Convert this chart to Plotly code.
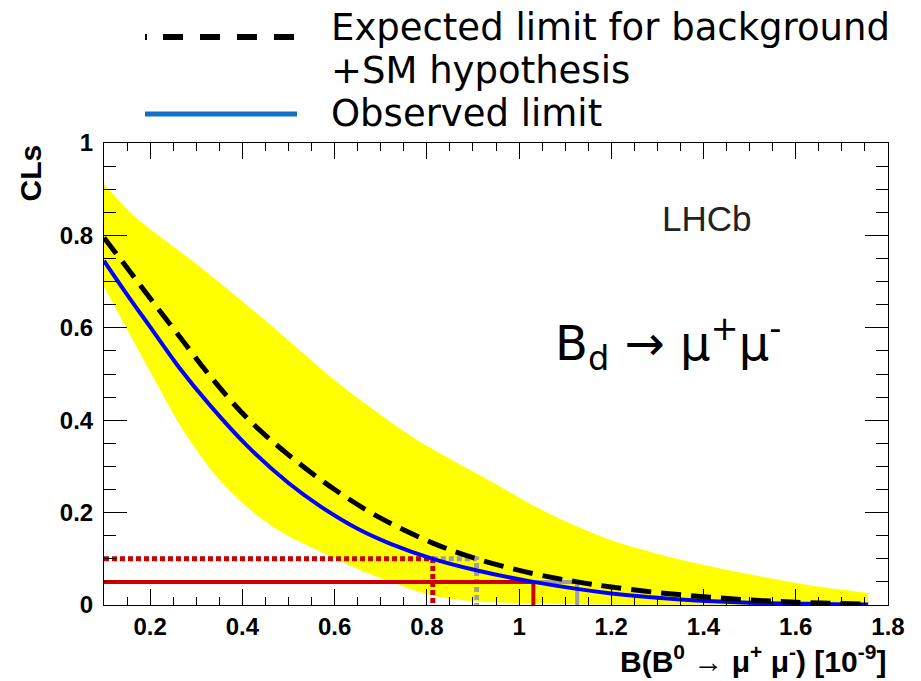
import plotly.graph_objects as go

# ---------------- data ----------------
obs_x = [0.10, 0.15, 0.20, 0.26, 0.33, 0.41, 0.50, 0.57, 0.65, 0.72, 0.813, 0.90, 1.031, 1.20, 1.35, 1.50, 1.757]
obs_y = [0.745, 0.672, 0.602, 0.518, 0.432, 0.345, 0.264, 0.213, 0.165, 0.133, 0.100, 0.077, 0.050, 0.025, 0.012, 0.005, 0.001]

exp_x = [0.10, 0.15, 0.20, 0.26, 0.333, 0.41, 0.50, 0.60, 0.70, 0.813, 0.908, 1.03, 1.126, 1.20, 1.30, 1.40, 1.50, 1.60, 1.757]
exp_y = [0.795, 0.730, 0.664, 0.586, 0.492, 0.405, 0.325, 0.250, 0.188, 0.134, 0.100, 0.068, 0.050, 0.039, 0.027, 0.018, 0.011, 0.006, 0.002]

band_up_x = [0.10, 0.163, 0.308, 0.453, 0.59, 0.655, 0.779, 0.922, 1.067, 1.20, 1.342, 1.486, 1.631, 1.757]
band_up_y = [0.911, 0.844, 0.732, 0.613, 0.495, 0.444, 0.357, 0.277, 0.197, 0.140, 0.100, 0.069, 0.043, 0.026]
band_lo_x = [0.10, 0.21, 0.271, 0.345, 0.417, 0.488, 0.562, 0.655, 0.75, 0.813, 0.90, 1.00, 1.20, 1.757]
band_lo_y = [0.689, 0.487, 0.379, 0.277, 0.206, 0.156, 0.119, 0.076, 0.040, 0.020, 0.008, 0.004, 0.001, 0.0]

cl_levels = [0.10, 0.05]          # 90% and 95% CL
obs_limits = [0.813, 1.031]       # observed upper limits
exp_limits = [0.908, 1.126]       # expected upper limits
x_start = 0.10

x_tickvals = [0.2, 0.4, 0.6, 0.8, 1.0, 1.2, 1.4, 1.6, 1.8]
x_ticktext = ["0.2", "0.4", "0.6", "0.8", "1", "1.2", "1.4", "1.6", "1.8"]
y_tickvals = [0, 0.2, 0.4, 0.6, 0.8, 1.0]
y_ticktext = ["0", "0.2", "0.4", "0.6", "0.8", "1"]

# ---------------- figure ----------------
W, H = 921, 681
L, R, T, B = 104, 33, 143, 76
PW, PH = W - L - R, H - T - B

def px(x):
    """window pixel x -> paper"""
    return (x - L) / PW

def py(y):
    """window pixel y -> paper"""
    return (H - B - y) / PH

fig = go.Figure()

# yellow band (lower edge, then upper edge filled to it)
fig.add_trace(go.Scatter(x=band_lo_x, y=band_lo_y, mode="lines",
                         line=dict(width=0, color="#FFFF00", shape="spline", smoothing=0.8),
                         hoverinfo="skip", showlegend=False))
fig.add_trace(go.Scatter(x=band_up_x, y=band_up_y, mode="lines", fill="tonexty", fillcolor="#FFFF00",
                         line=dict(width=0, color="#FFFF00", shape="spline", smoothing=0.8),
                         hoverinfo="skip", showlegend=False))

RED = "#CC0000"
GREY = "#A0A0A0"
styles = [dict(dash="5px,3px", width=5), dict(dash="solid", width=4)]
for lvl, ol, el, st in zip(cl_levels, obs_limits, exp_limits, styles):
    fig.add_trace(go.Scatter(x=[x_start, ol, ol], y=[lvl, lvl, 0], mode="lines",
                             line=dict(color=RED, **st), showlegend=False))
    fig.add_trace(go.Scatter(x=[ol, el, el], y=[lvl, lvl, 0], mode="lines",
                             line=dict(color=GREY, **st), showlegend=False))

fig.add_trace(go.Scatter(x=obs_x, y=obs_y, mode="lines",
                         line=dict(color="#0000FF", width=4, shape="spline", smoothing=1.0),
                         showlegend=False))
fig.add_trace(go.Scatter(x=exp_x, y=exp_y, mode="lines",
                         line=dict(color="#000000", width=5, dash="20px,10px", shape="spline", smoothing=1.0),
                         showlegend=False))

tickfont = dict(family="Liberation Sans", size=24, color="black", weight="bold")
fig.update_xaxes(range=[0.1, 1.8], tickvals=x_tickvals, ticktext=x_ticktext,
                 ticks="inside", ticklen=16, tickwidth=1, tickcolor="black",
                 minor=dict(dtick=0.05, tick0=0, ticks="inside", ticklen=8, tickwidth=1, tickcolor="black"),
                 showline=True, linecolor="black", linewidth=1, mirror="allticks",
                 showgrid=False, zeroline=False, tickfont=tickfont, ticklabelstandoff=0)
fig.update_yaxes(range=[0, 1], tickvals=y_tickvals, ticktext=y_ticktext,
                 ticks="inside", ticklen=23, tickwidth=1, tickcolor="black",
                 minor=dict(dtick=0.05, tick0=0, ticks="inside", ticklen=12, tickwidth=1, tickcolor="black"),
                 showline=True, linecolor="black", linewidth=1, mirror="allticks",
                 showgrid=False, zeroline=False, tickfont=tickfont, ticklabelstandoff=5)

# legend drawn above the frame
fig.add_shape(type="line", xref="paper", yref="paper", x0=px(145), x1=px(297), y0=py(37), y1=py(37),
              line=dict(color="black", width=6,
                        dash="2px,16px,20px,17px,20px,17px,20px,17px,20px,10px"))
fig.add_shape(type="line", xref="paper", yref="paper", x0=px(145), x1=px(297), y0=py(114), y1=py(114),
              line=dict(color="#1070C8", width=5))
legfont = dict(family="DejaVu Sans", size=37, color="black")
for txt, yy in [("Expected limit for background", 28), ("+SM hypothesis", 70), ("Observed limit", 114)]:
    fig.add_annotation(text=txt, xref="paper", yref="paper", x=px(330), y=py(yy),
                       xanchor="left", yanchor="middle", showarrow=False, font=legfont,
                       borderpad=0)

fig.add_annotation(text="LHCb", xref="paper", yref="paper", x=px(660), y=py(218),
                   xanchor="left", yanchor="middle", showarrow=False,
                   font=dict(family="Liberation Sans", size=35, color="#222222"))
fig.add_annotation(text="B<sub>d</sub> → μ<sup>+</sup>μ<sup>-</sup>", xref="paper", yref="paper",
                   x=px(553), y=py(343), xanchor="left", yanchor="middle", showarrow=False,
                   font=dict(family="DejaVu Sans", size=48, color="black"))
fig.add_annotation(text="<b>B(B<sup>0</sup> → μ<sup>+</sup> μ<sup>-</sup>) [10<sup>-9</sup>]</b>",
                   xref="paper", yref="paper", x=1.0, y=py(659), xanchor="right", yanchor="middle",
                   showarrow=False, font=dict(family="Liberation Sans", size=30, color="black"))
fig.add_annotation(text="<b>CLs</b>", xref="paper", yref="paper", x=px(30), y=1.0,
                   xanchor="center", yanchor="top", textangle=-90, showarrow=False,
                   font=dict(family="Liberation Sans", size=30, color="black"))

fig.update_layout(width=W, height=H, margin=dict(l=L, r=R, t=T, b=B),
                  paper_bgcolor="white", plot_bgcolor="white", showlegend=False)

fig.write_html("out.html", config={"displayModeBar": False},
               post_script="document.body.style.margin='0';")
